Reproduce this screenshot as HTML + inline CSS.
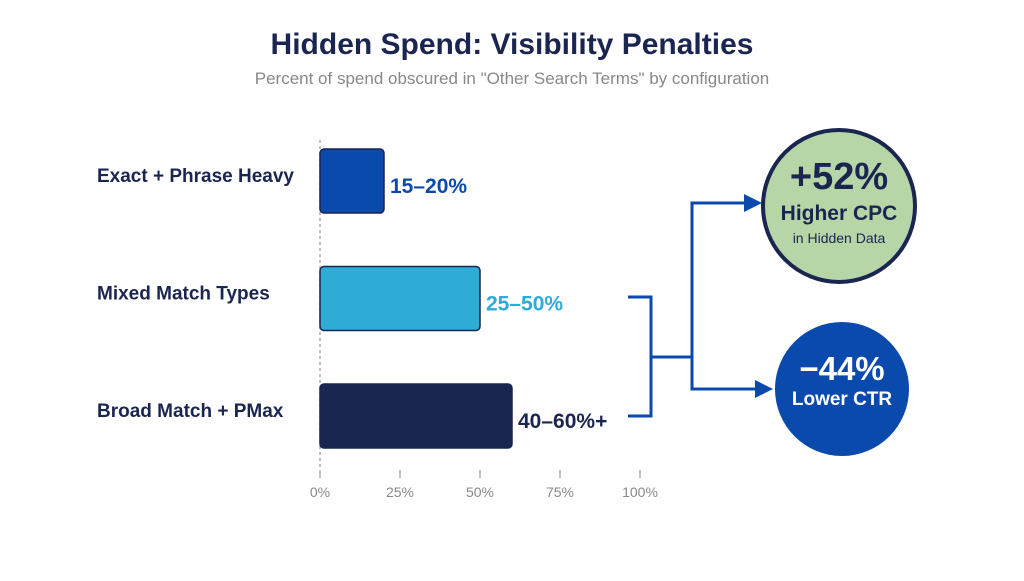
<!DOCTYPE html>
<html><head><meta charset="utf-8"><style>
body{margin:0;background:#fff;font-family:"Liberation Sans",sans-serif}
</style></head><body>
<svg width="1024" height="576" viewBox="0 0 1024 576" xmlns="http://www.w3.org/2000/svg">
<text x="512" y="54" text-anchor="middle" font-size="30" font-weight="bold" fill="#1a2550">Hidden Spend: Visibility Penalties</text>
<text x="512" y="84" text-anchor="middle" font-size="17" fill="#888">Percent of spend obscured in "Other Search Terms" by configuration</text>
<line x1="320" y1="140" x2="320" y2="470" stroke="#aaa" stroke-width="1.5" stroke-dasharray="3,3"/>
<g id="bars"></g>
<g id="axis"></g>
<g fill="none" stroke="#0a4aad" stroke-width="3">
<polyline points="628,297 651,297 651,416 628,416"/>
<line x1="651" y1="357" x2="692" y2="357"/>
<polyline points="746,203 692,203 692,389 757,389"/>
</g>
<polygon points="744,194 762,203 744,212" fill="#0a4aad"/>
<polygon points="755,380 773,389 755,398" fill="#0a4aad"/>
<circle cx="839" cy="206" r="76" fill="#b7d6a8" stroke="#1a2550" stroke-width="4"/>
<text x="839" y="189" text-anchor="middle" font-size="38" font-weight="bold" fill="#1a2550">+52%</text>
<text x="839" y="220" text-anchor="middle" font-size="21" font-weight="bold" fill="#1a2550">Higher CPC</text>
<text x="839" y="243" text-anchor="middle" font-size="14" fill="#1a2550">in Hidden Data</text>
<circle cx="842" cy="389" r="67" fill="#0a4aad"/>
<text x="842" y="380" text-anchor="middle" font-size="33" font-weight="bold" fill="#fff">−44%</text>
<text x="842" y="405" text-anchor="middle" font-size="19" font-weight="bold" fill="#fff">Lower CTR</text>
</svg>
<script>
const categories=["Exact + Phrase Heavy","Mixed Match Types","Broad Match + PMax"];
const values=[20,50,60];
const valueLabels=["15–20%","25–50%","40–60%+"];
const ticks=[0,25,50,75,100];
const colors=["#0a4aad","#2eacd6","#1a2550"];
const ns="http://www.w3.org/2000/svg";
const x=v=>320+v*3.2;
const yTop=i=>149+i*117.5;
const bh=64;
const bars=document.getElementById('bars'),axis=document.getElementById('axis');
function mk(t,a,p){const e=document.createElementNS(ns,t);for(const k in a)e.setAttribute(k,a[k]);p.appendChild(e);return e;}
categories.forEach((c,i)=>{
  const r=mk('rect',{x:x(0),y:yTop(i),width:x(values[i])-x(0),height:bh,rx:4,fill:colors[i],stroke:'#1a2550','stroke-width':1.5},bars);
  
  
  const l=mk('text',{x:97,y:yTop(i)+33,'font-size':19,'font-weight':'bold',fill:'#1a2550'},bars);l.textContent=c;
  
  
  const v=mk('text',{x:x(values[i])+6,y:yTop(i)+bh/2+12,'font-size':21,'font-weight':'bold',fill:colors[i]},bars);v.textContent=valueLabels[i];
  
  
});
ticks.forEach(t=>{
  const tk=mk('line',{x1:x(t),x2:x(t),y1:470,y2:478,stroke:'#aaa','stroke-width':1.5},axis);
  
  
  const tl=mk('text',{x:x(t),y:497,'text-anchor':'middle','font-size':14,fill:'#888'},axis);tl.textContent=t+'%';
  
  
});
</script>
</body></html>
